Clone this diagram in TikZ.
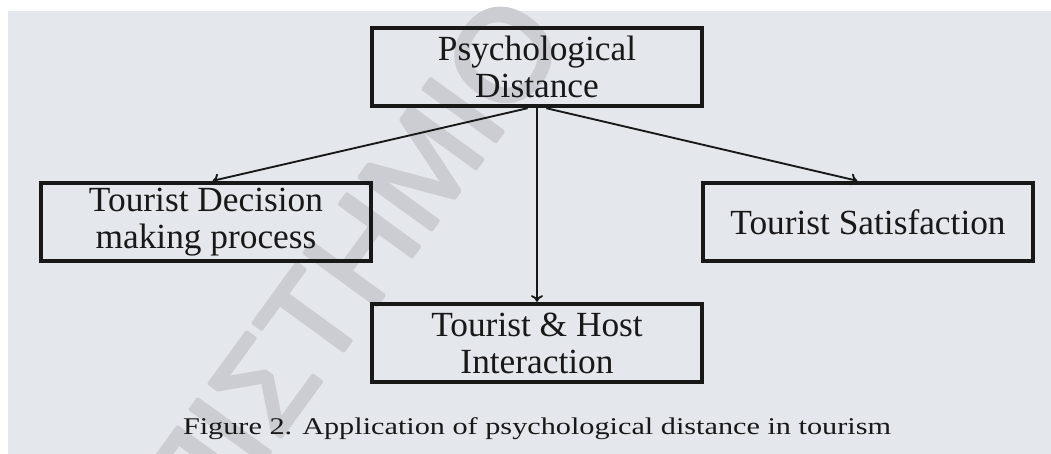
\documentclass[tikz,border=0pt]{standalone}
\usepackage{graphicx}
\usepackage{fontspec}
\setmainfont{Liberation Serif}
\newfontfamily\wmfont{Liberation Sans}
\usetikzlibrary{arrows.meta}

\definecolor{bggray}{RGB}{228,231,236}
\definecolor{wmgray}{RGB}{203,205,210}
\definecolor{inkgray}{RGB}{24,24,24}

% thicker strokes for the watermark letters
\newcommand{\wmtext}[1]{\special{pdf:literal direct 2 Tr 3 w 1 j}#1\special{pdf:literal direct 0 Tr}}

\tikzset{
  box/.style={draw=inkgray, line width=2.8pt, text=inkgray, align=center,
    minimum width=248pt, minimum height=59pt, inner sep=0pt,
    font=\fontsize{26.5}{27.75}\selectfont},
  link/.style={draw=inkgray, line width=1.4pt, -{To[length=5pt,width=9pt]}}
}

\begin{document}
\begin{tikzpicture}[x=0.75pt,y=-0.75pt]
    \useasboundingbox (0,0) rectangle (1051,454);
    \fill [white] (0,0) rectangle (1051,454);
    \fill [bggray] (8,11) rectangle (1051,454);

    % watermark
    \begin{scope}
    \clip (0,0) rectangle (1051,454);
    \node (WMK) [rotate=54, anchor=east, inner sep=0pt, text=wmgray,
        font=\wmfont\fontsize{97}{97}\selectfont] at (533,14) {\wmtext{ΠΑΝΕΠΙΣΤΗΜΙΟ}};
    \end{scope}

    \node (PSD) [box] at (537,67)  {Psychological\\Distance};
    \node (TDM) [box] at (206,222) {Tourist Decision\\making process};
    \node (TSF) [box] at (868,222) {Tourist Satisfaction};
    \node (THI) [box] at (537,343) {Tourist \& Host\\Interaction};
    \node (CAP) [anchor=base, text=inkgray, inner sep=0pt] at (537,434)
        {\fontsize{18}{18}\selectfont\scalebox{1.26}[1]{Figure 2. Application of psychological distance in tourism}};

    \draw [link] ([xshift=-7pt]PSD.south) -- ([xshift=5pt]TDM.north);
    \draw [link] (PSD.south) -- (THI.north);
    \draw [link] ([xshift=7pt]PSD.south) -- ([xshift=-8pt]TSF.north);
\end{tikzpicture}
\end{document}
